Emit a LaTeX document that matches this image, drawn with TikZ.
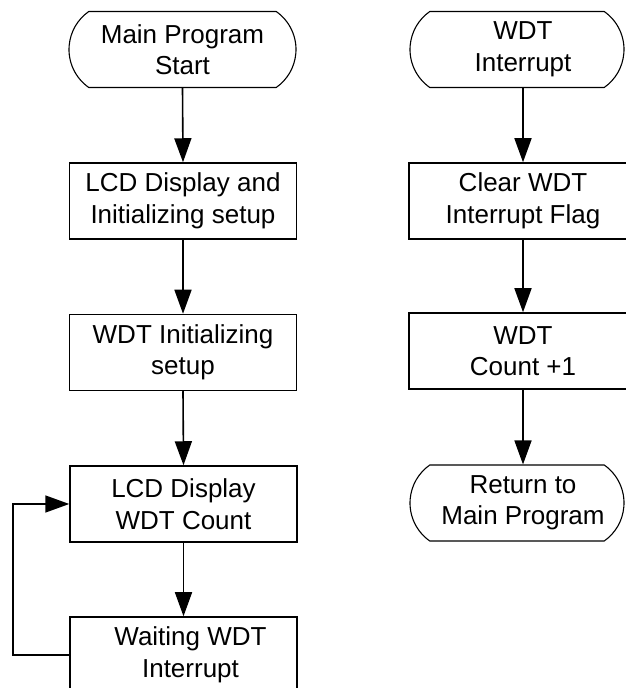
\documentclass[tikz,border=0pt]{standalone}
\usepackage{fontspec}
\setmainfont{Liberation Sans}
\usetikzlibrary{shapes.misc,arrows.meta}
\begin{document}
\begin{tikzpicture}[x=1pt,y=1pt,
  every node/.style={font=\fontsize{26}{31.5}\selectfont, align=center, inner sep=0pt},
  procbox/.style={draw, line width=1.5pt, rectangle, minimum width=227pt, minimum height=76pt},
  termbox/.style={draw, line width=1.1pt, shape=rounded rectangle, rounded rectangle arc length=110, minimum height=76pt},
  flow/.style={line width=1.6pt, -{Triangle[length=24pt,width=17pt]}}]
\useasboundingbox (0,0) rectangle (626,688);
\clip (0,0) rectangle (626,688);
% left column
\node[termbox, minimum width=227pt] (t1) at (182.5,638.5) {Main Program\\Start};
\node[procbox] (b1) at (183,487) {LCD Display and\\Initializing setup};
\node[procbox] (b2) at (183,335.5) {WDT Initializing\\setup};
\node[procbox] (b3) at (183.5,184) {LCD Display\\WDT Count};
\node[procbox] (b4) at (183.5,33) {\hspace*{14pt}Waiting WDT\\\hspace*{14pt}Interrupt};
\coordinate (lp) at (13,0);
% right column
\node[termbox, minimum width=214pt] (t2) at (517,638.5) {\hspace*{12pt}WDT\\\hspace*{12pt}Interrupt};
\node[procbox, minimum width=228pt] (r1) at (523,487) {Clear WDT\\Interrupt Flag};
\node[procbox, minimum width=228pt] (r2) at (523,337) {WDT\\Count +1};
\node[termbox, minimum width=214pt] (t3) at (517,185) {\hspace*{12pt}Return to\\\hspace*{12pt}Main Program};
% connectors
\draw[flow] (t1.south) -- (b1.north);
\draw[flow] (b1.south) -- (b2.north);
\draw[flow] (b2.south) -- (b3.north);
\draw[flow] (b3.south) -- (b4.north);
\draw[flow] (b4.west) -- (b4.west -| lp) |- (b3.west);
\draw[flow] (t2.south -| r1.north) -- (r1.north);
\draw[flow] (r1.south) -- (r2.north);
\draw[flow] (r2.south) -- (t3.north -| r2.south);
\end{tikzpicture}
\end{document}
